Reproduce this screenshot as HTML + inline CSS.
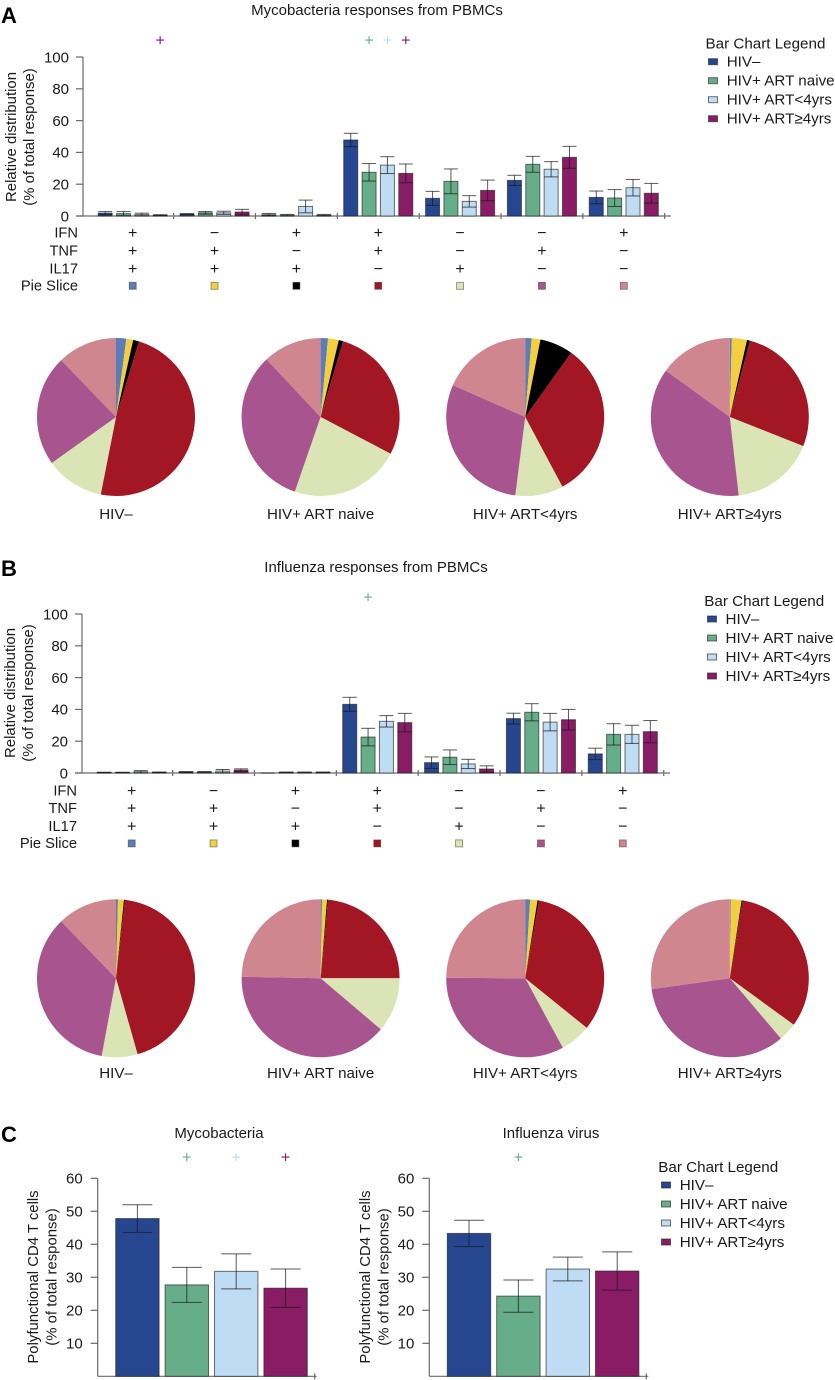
<!DOCTYPE html>
<html lang="en">
<head>
<meta charset="utf-8">
<title>Polyfunctional CD4 T cell responses</title>
<style>
html,body{margin:0;padding:0;background:#fff;}
svg{display:block;}
text{font-family:"Liberation Sans",sans-serif;fill:#1a1a1a;font-size:15.2px;}
.ttl{font-size:15px;text-anchor:middle;}
.ltr{font-size:22px;font-weight:bold;fill:#000;}
</style>
</head>
<body>
<svg id="fig" xmlns="http://www.w3.org/2000/svg" width="835" height="1380" viewBox="0 0 835 1380">
  <rect width="835" height="1380" fill="#fff"/>
  <text class="ltr" x="1" y="23">A</text>
  <text class="ltr" x="1" y="576">B</text>
  <text class="ltr" x="1" y="1142">C</text>
  <text class="ttl" x="377" y="15">Mycobacteria responses from PBMCs</text>
  <text class="ttl" x="376" y="572">Influenza responses from PBMCs</text>
  <text class="ttl" x="219" y="1138">Mycobacteria</text>
  <text class="ttl" x="551" y="1138">Influenza virus</text>
</svg>
<script>
// ---------- shared categories ----------
const groups = ['HIV–', 'HIV+ ART naive', 'HIV+ ART<4yrs', 'HIV+ ART≥4yrs'];
const groupColors = ['#26478f', '#66ae8a', '#bfdcf5', '#8a1c66'];
const markerRows = ['IFN', 'TNF', 'IL17'];
const ifnMarks = ['+', '−', '+', '+', '−', '−', '+'];
const tnfMarks = ['+', '+', '−', '+', '−', '+', '−'];
const il17Marks = ['+', '+', '+', '−', '+', '−', '−'];
const sliceColors = ['#5b7db8', '#f3cf3f', '#000000', '#a31624', '#dbe4b4', '#a8558f', '#cf868e'];
const distributionTicks = [0, 20, 40, 60, 80, 100];
const polyTicks = [10, 20, 30, 40, 50, 60];

// ---------- panel A: mycobacteria bars, one row per group ----------
const mycoMeans = [
  [1.8, 1.2, 0.8, 47.8, 11.1, 22.4, 11.7],
  [1.5, 2.0, 0.5, 27.5, 21.8, 32.5, 11.3],
  [1.0, 2.0, 6.0, 32.0, 9.2, 29.4, 17.8],
  [0.5, 2.5, 0.5, 26.8, 16.1, 36.9, 14.3]
];
const mycoErrors = [
  [1.0, 0.3, 0.8, 4.2, 4.4, 3.2, 4.0],
  [1.3, 0.8, 0.5, 5.5, 7.8, 5.0, 5.3],
  [0.8, 1.0, 4.0, 5.3, 3.6, 4.8, 5.2],
  [0.3, 1.7, 0.5, 5.9, 6.5, 6.9, 6.2]
];
const mycoSignificance = [
  [0, 0, 0, 0, 0, 0, 0],
  [0, 0, 0, 1, 0, 0, 0],
  [0, 0, 0, 1, 0, 0, 0],
  [1, 0, 0, 1, 0, 0, 0]
];

// ---------- panel B: influenza bars, one row per group ----------
const fluMeans = [
  [0.3, 0.6, 0.0, 43.2, 6.5, 34.2, 12.0],
  [0.3, 0.6, 0.4, 22.6, 9.9, 38.2, 24.3],
  [0.8, 1.2, 0.4, 32.5, 5.7, 32.0, 24.3],
  [0.4, 1.8, 0.4, 31.7, 2.5, 33.5, 26.0]
];
const fluErrors = [
  [0.2, 0.3, 0.0, 4.4, 3.6, 3.4, 3.6],
  [0.2, 0.3, 0.2, 5.5, 4.6, 5.4, 6.7],
  [0.7, 1.0, 0.2, 3.6, 2.9, 5.5, 5.7],
  [0.2, 0.8, 0.2, 5.8, 2.0, 6.5, 7.0]
];
const fluSignificance = [
  [0, 0, 0, 0, 0, 0, 0],
  [0, 0, 0, 1, 0, 0, 0],
  [0, 0, 0, 0, 0, 0, 0],
  [0, 0, 0, 0, 0, 0, 0]
];

// ---------- pies: one row per group, slice order matches sliceColors ----------
const mycoPies = [
  [2.1, 1.4, 1.2, 48.4, 12.0, 22.7, 12.2],
  [1.5, 2.2, 0.9, 28.1, 22.6, 32.7, 12.0],
  [1.3, 1.8, 6.8, 32.3, 9.8, 29.6, 18.4],
  [0.4, 3.1, 0.6, 26.9, 17.2, 36.8, 15.0]
];
const fluPies = [
  [0.4, 1.2, 0.2, 43.8, 7.3, 34.9, 12.2],
  [0.3, 1.0, 0.2, 23.5, 11.2, 39.1, 24.7],
  [1.0, 1.5, 0.3, 33.0, 6.3, 33.0, 24.9],
  [0.2, 2.2, 0.2, 32.4, 3.8, 34.0, 27.2]
];

// ---------- panel C: polyfunctional totals ----------
const polyMycoMeans = [47.8, 27.7, 31.8, 26.7];
const polyMycoErrors = [4.2, 5.3, 5.3, 5.8];
const polyMycoSignificance = [0, 1, 1, 1];
const polyFluMeans = [43.3, 24.3, 32.5, 31.9];
const polyFluErrors = [4.0, 4.9, 3.6, 5.8];
const polyFluSignificance = [0, 1, 0, 0];

const svg = document.getElementById('fig');
const NS = 'http://www.w3.org/2000/svg';
const AXIS = '#6a6a6a';
const ERR = 'rgba(25,25,25,0.72)';

function make(tag, attrs, text) {
  const node = document.createElementNS(NS, tag);
  for (const k in attrs) node.setAttribute(k, attrs[k]);
  if (text !== undefined) node.textContent = text;
  svg.appendChild(node);
  return node;
}

function axisLine(x1, y1, x2, y2, name) {
  const el = make('line', {x1, y1, x2, y2, stroke: AXIS, 'stroke-width': 1.2});
  
  
  return el;
}

function label(x, y, str, anchor, name, size) {
  const px = size || 15.2;
  const el = make('text', {x, y, 'text-anchor': anchor, style: 'font-size:' + px + 'px'}, str);
  
  
  return el;
}

function rotatedLabel(x, y, str, name, size) {
  const el = make('text', {x, y, 'text-anchor': 'middle', transform: 'rotate(-90 ' + x + ' ' + y + ')', style: 'font-size:' + size + 'px'}, str);
  
  
  return el;
}

function sigPlus(x, y, color, name) {
  const el = make('text', {x, y, 'text-anchor': 'middle', style: 'font-size:16px;fill:' + color}, '+');
  
  
  return el;
}

function drawBar(cx, w, yScale, value, error, capW, color, name) {
  const top = yScale(value);
  const rect = make('rect', {x: cx - w / 2, y: top, width: w, height: yScale(0) - top, fill: color, stroke: 'rgba(35,35,35,0.65)', 'stroke-width': 1});
  
  
  const hi = yScale(value + error);
  const lo = yScale(Math.max(0, value - error));
  const stem = make('line', {x1: cx, y1: hi, x2: cx, y2: lo, stroke: ERR, 'stroke-width': 1});
  
  
  const capHi = make('line', {x1: cx - capW / 2, y1: hi, x2: cx + capW / 2, y2: hi, stroke: ERR, 'stroke-width': 1});
  
  
  const capLo = make('line', {x1: cx - capW / 2, y1: lo, x2: cx + capW / 2, y2: lo, stroke: ERR, 'stroke-width': 1});
  
  
}

function drawLegend(titleX, swatchX, textX, titleY, firstY, gap, prefix) {
  const title = label(titleX, titleY, 'Bar Chart Legend', 'start', prefix + '-legend-title');
  
  groups.forEach((g, i) => {
    const cy = firstY + i * gap;
    const sw = make('rect', {x: swatchX, y: cy - 3, width: 9, height: 6, fill: groupColors[i], stroke: 'rgba(40,40,40,0.65)', 'stroke-width': 1});
    
    
    label(textX, cy + 5, g, 'start', prefix + '-legend-entry-' + i);
  });
}

function drawDistribution(prefix, originX, y0, firstCenter, means, errors, significance, sigY, rowY, legendArgs, labelY) {
  const scaleY = v => y0 - v * 1.59;
  const step = 81.85;
  const centerX = c => firstCenter + c * step;
  const barX = (c, s) => centerX(c) + (s - 1.5) * 18.35;

  axisLine(originX, scaleY(100), originX, y0, prefix + '-y-axis');
  axisLine(originX - 7, y0, originX + 588, y0, prefix + '-x-axis');
  distributionTicks.forEach(t => {
    axisLine(originX - 7, scaleY(t), originX, scaleY(t), prefix + '-y-tick-' + t);
    label(originX - 14, scaleY(t) + 5.3, String(t), 'end', prefix + '-y-tick-label-' + t, 15);
  });
  ifnMarks.forEach((m, c) => {
    axisLine(centerX(c) + step / 2, y0 - 3, centerX(c) + step / 2, y0 + 3, prefix + '-x-tick-' + c);
  });

  rotatedLabel(originX - 67, labelY, 'Relative distribution', prefix + '-y-axis-title', 14.9);
  rotatedLabel(originX - 49, labelY, '(% of total response)', prefix + '-y-axis-subtitle', 14.9);

  means.forEach((row, s) => {
    row.forEach((v, c) => {
      drawBar(barX(c, s), 14, scaleY, v, errors[s][c], 14, groupColors[s], prefix + '-bar-' + c + '-' + s);
      if (significance[s][c]) {
        sigPlus(barX(c, s), sigY, groupColors[s], prefix + '-significance-' + c + '-' + s);
      }
    });
  });

  const rowMarks = [ifnMarks, tnfMarks, il17Marks];
  markerRows.forEach((name, r) => {
    label(originX - 5, rowY + r * 17.8 + 5, name, 'end', prefix + '-row-label-' + name.toLowerCase(), 14.7);
    rowMarks[r].forEach((m, c) => {
      label(centerX(c), rowY + r * 17.8 + 5.5, m, 'middle', prefix + '-' + name.toLowerCase() + '-mark-' + c, 16);
    });
  });
  label(originX - 5, rowY + 3 * 17.6 + 5, 'Pie Slice', 'end', prefix + '-row-label-pie-slice', 14.7);
  sliceColors.forEach((col, c) => {
    const sw = make('rect', {x: centerX(c) - 3.5, y: rowY + 3 * 17.7 - 3.5, width: 7, height: 7, fill: col, stroke: 'rgba(60,60,60,0.6)', 'stroke-width': 0.8});
    
    
  });
  drawLegend(legendArgs[0], legendArgs[1], legendArgs[2], legendArgs[3], legendArgs[4], legendArgs[5], prefix);
}

function drawPie(cx, cy, r, values, name) {
  const total = values.reduce((a, b) => a + b, 0);
  let acc = 0;
  values.forEach((v, i) => {
    if (v <= 0) return;
    const a0 = acc / total * 2 * Math.PI;
    acc += v;
    const a1 = acc / total * 2 * Math.PI;
    const large = a1 - a0 > Math.PI ? 1 : 0;
    const d = 'M' + cx + ' ' + cy +
      'L' + (cx + r * Math.sin(a0)) + ' ' + (cy - r * Math.cos(a0)) +
      'A' + r + ' ' + r + ' 0 ' + large + ' 1 ' + (cx + r * Math.sin(a1)) + ' ' + (cy - r * Math.cos(a1)) + 'Z';
    const slice = make('path', {d, fill: sliceColors[i]});
    
    
  });
}

function drawPieRow(prefix, cy, labelBaseline, rows) {
  const pieX = i => 116 + i * 204.6;
  rows.forEach((vals, i) => {
    drawPie(pieX(i), cy, 79, vals, prefix + '-pie-' + i);
    label(pieX(i), labelBaseline, groups[i], 'middle', prefix + '-pie-label-' + i, 15.1);
  });
}

function drawPoly(prefix, originX, means, errors, significance, titleX, subX, axisCenterY) {
  const y0 = 1376.3;
  const scaleY = v => y0 - v * 3.3;
  const barCenter = i => originX + 39.7 + i * 49.4;
  axisLine(originX, scaleY(60), originX, y0, prefix + '-y-axis');
  axisLine(originX, y0, originX + 219, y0, prefix + '-x-axis');
  axisLine(originX + 217, y0 - 3, originX + 217, y0 + 3, prefix + '-x-tick-end');
  polyTicks.forEach(t => {
    axisLine(originX - 7, scaleY(t), originX, scaleY(t), prefix + '-y-tick-' + t);
    label(originX - 15, scaleY(t) + 5.3, String(t), 'end', prefix + '-y-tick-label-' + t, 15);
  });
  rotatedLabel(titleX, axisCenterY, 'Polyfunctional CD4 T cells', prefix + '-y-axis-title', 14.9);
  rotatedLabel(subX, axisCenterY, '(% of total response)', prefix + '-y-axis-subtitle', 14.9);
  means.forEach((v, i) => {
    drawBar(barCenter(i), 43.4, scaleY, v, errors[i], 30, groupColors[i], prefix + '-bar-' + i);
    if (significance[i]) {
      sigPlus(barCenter(i), 1162.5, groupColors[i], prefix + '-significance-' + i);
    }
  });
}

drawDistribution('panel-a', 83, 216, 132.7, mycoMeans, mycoErrors, mycoSignificance, 45.5, 232.7,
  [705.5, 708.5, 726.7, 48.5, 61.7, 19], 137);
drawPieRow('panel-a', 417, 519, mycoPies);

drawDistribution('panel-b', 82, 773, 131.7, fluMeans, fluErrors, fluSignificance, 602.5, 790.3,
  [704.3, 707.5, 725.5, 606, 619, 19], 693);
drawPieRow('panel-b', 978.3, 1078, fluPies);

drawPoly('panel-c-left', 97.7, polyMycoMeans, polyMycoErrors, polyMycoSignificance, 38, 56.5, 1277);
drawPoly('panel-c-right', 429.3, polyFluMeans, polyFluErrors, polyFluSignificance, 370, 388.5, 1277);
drawLegend(658.3, 661.5, 679.7, 1172, 1185, 19, 'panel-c');
</script>
</body>
</html>
